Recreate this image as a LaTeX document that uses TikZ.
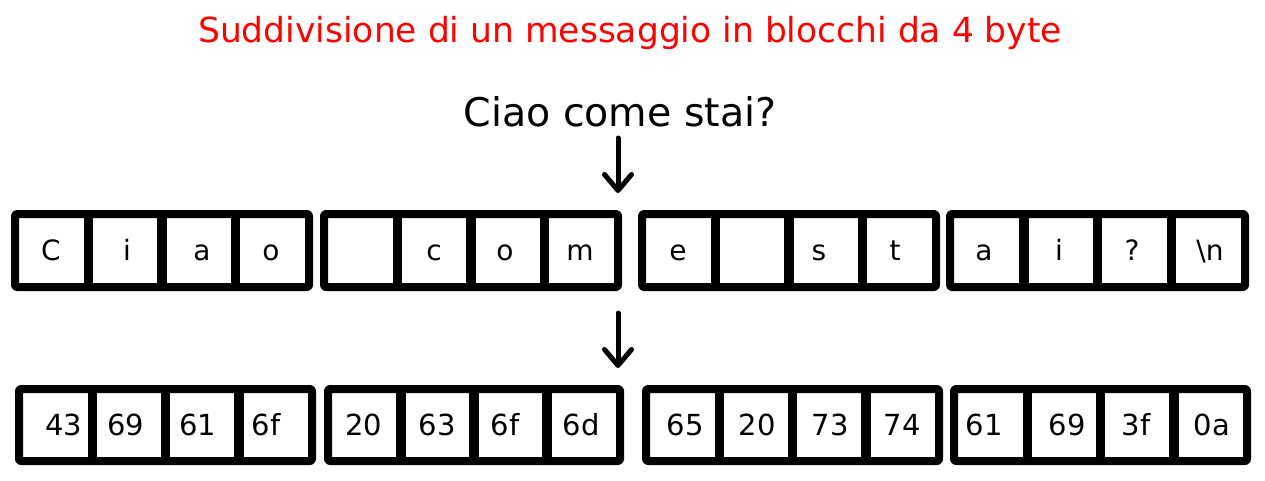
\documentclass[tikz,border=0pt]{standalone}
\usepackage{fontspec}
\setmainfont{DejaVu Sans}
\usetikzlibrary{arrows.meta}
\definecolor{titlered}{RGB}{255,0,0}
\tikzset{
  grp/.style={draw=black, line width=8pt, rounded corners=2pt, line join=round, fill=white},
  divider/.style={draw=black, line width=9.5pt},
  chr/.style={anchor=base, inner sep=0pt, font=\fontsize{28}{30}\selectfont},
  hexc/.style={anchor=base, inner sep=0pt, font=\fontsize{29}{31}\selectfont},
  bigarrow/.style={draw=black, line width=5pt, line cap=round,
    -{Straight Barb[length=16pt, width=27pt, line cap=round, line join=round]}},
}
\begin{document}
\begin{tikzpicture}[x=1pt, y=-1pt]
\useasboundingbox (0,0) rectangle (1265,480);
\fill[white] (0,0) rectangle (1265,480);

\node[anchor=base, inner sep=0pt, text=titlered, font=\fontsize{34.5}{36}\selectfont] (title) at (630,42) {Suddivisione di un messaggio in blocchi da 4 byte};
\node[anchor=base, inner sep=0pt, font=\fontsize{39.5}{42}\selectfont] (msg) at (620,126) {Ciao come stai?};

% top row groups
\foreach \xa/\xb [count=\g] in {11/313, 320/622, 638/940, 946/1249} {
  \pgfmathsetmacro{\wq}{(\xb-\xa-8)/4}
  \draw[grp] (\xa+4,214) rectangle (\xb-4,287);
  \foreach \k in {1,2,3} {
    \draw[divider] (\xa+4+\k*\wq,214) -- (\xa+4+\k*\wq,287);
  }
}
% bottom row groups
\foreach \xa/\xb [count=\g] in {15/316, 324/624, 642/943, 950/1251} {
  \pgfmathsetmacro{\wq}{(\xb-\xa-8)/4}
  \draw[grp] (\xa+4,389) rectangle (\xb-4,461);
  \foreach \k in {1,2,3} {
    \draw[divider] (\xa+4+\k*\wq,389) -- (\xa+4+\k*\wq,461);
  }
}

% top row characters
\node[chr] (c1) at (51,260) {C};
\node[chr] (c2) at (127,260) {i};
\node[chr] (c3) at (202,260) {a};
\node[chr] (c4) at (271,260) {o};
\node[chr] (c6) at (434,260) {c};
\node[chr] (c7) at (505,260) {o};
\node[chr] (c8) at (580,260) {m};
\node[chr] (c9) at (678,260) {e};
\node[chr] (c11) at (819,260) {s};
\node[chr] (c12) at (895,260) {t};
\node[chr] (c13) at (984,260) {a};
\node[chr] (c14) at (1059,260) {i};
\node[chr] (c15) at (1132,260) {?};
\node[chr] (c16) at (1210,260) {\textbackslash n};

% bottom row hex
\node[hexc] (h1) at (64,435) {43};
\node[hexc] (h2) at (126,435) {69};
\node[hexc] (h3) at (198,435) {61};
\node[hexc] (h4) at (266,435) {6f};
\node[hexc] (h5) at (364,435) {20};
\node[hexc] (h6) at (437,435) {63};
\node[hexc] (h7) at (505,435) {6f};
\node[hexc] (h8) at (581,435) {6d};
\node[hexc] (h9) at (685,435) {65};
\node[hexc] (h10) at (757,435) {20};
\node[hexc] (h11) at (830,435) {73};
\node[hexc] (h12) at (902,435) {74};
\node[hexc] (h13) at (984,435) {61};
\node[hexc] (h14) at (1067,435) {69};
\node[hexc] (h15) at (1136,435) {3f};
\node[hexc] (h16) at (1212,435) {0a};

% arrows
\coordinate (a1s) at (618,138);
\coordinate (a1e) at (618,193);
\coordinate (a2s) at (618,313);
\coordinate (a2e) at (618,368);
\draw[bigarrow] (a1s) -- (a1e);
\draw[bigarrow] (a2s) -- (a2e);
\end{tikzpicture}
\end{document}
